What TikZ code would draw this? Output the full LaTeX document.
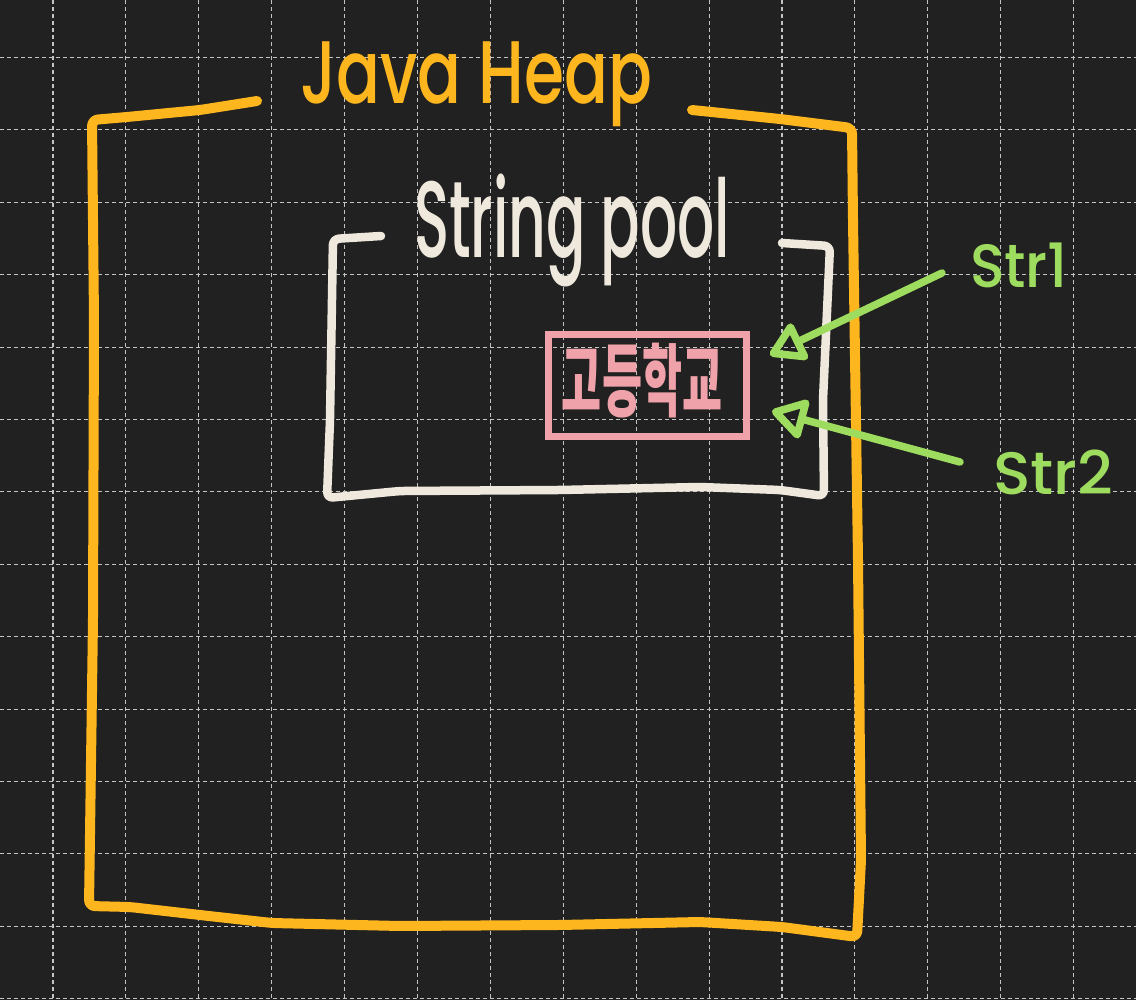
\documentclass[tikz,border=0pt]{standalone}
\usepackage{graphicx}
\usepackage{fontspec}
\setmainfont{Poppins}[UprightFont=* Medium]
\newfontfamily\krfont{Noto Sans CJK KR}
\usetikzlibrary{arrows.meta}
\definecolor{bg}{HTML}{212121}
\definecolor{heap}{HTML}{FDB61D}
\definecolor{pool}{HTML}{EFE9DD}
\definecolor{pinkc}{HTML}{F0A2AA}
\definecolor{greenc}{HTML}{9DDC5E}
\definecolor{gridc}{HTML}{C4C4C4}
\begin{document}
\begin{tikzpicture}[x=1pt,y=-1pt,
  gridline/.style={gridc, line width=1.1pt, dash pattern=on 4pt off 3pt},
  hand/.style={line width=#1, line cap=round, line join=round, rounded corners=6pt},
  lbl/.style={inner sep=0pt, outer sep=0pt},
  ptr/.style={greenc, line width=7.5pt, line cap=round,
    -{Triangle[open, length=38pt, width=44pt, line join=round]}}]
\fill[bg] (0,0) rectangle (1136,1000);
\useasboundingbox (0,0) rectangle (1136,1000);
% grid
\foreach \i in {0,...,14} {\draw[gridline] ({53+72.9*\i},0) -- ({53+72.9*\i},1000);}
\foreach \j in {0,...,13} {\draw[gridline] (0,{57.5+72.4*\j}) -- (1136,{57.5+72.4*\j});}
% Java heap frame
\draw[heap, hand=10pt] (257,101) -- (200,110) -- (127,117) -- (92,120) -- (94,320) -- (93,620)
  -- (89,906) -- (130,907) -- (200,915) -- (272,923) -- (400,926) -- (560,925) -- (700,922)
  -- (782,927) -- (857,937) -- (861,860) -- (858,560) -- (853,220) -- (852,128) -- (780,119) -- (692,110);
\node[lbl, anchor=north west, text=heap] (jh) at (300,42) {\resizebox*{352pt}{85pt}{Java Heap}};
% String pool frame
\draw[pool, hand=8.5pt] (381,236) -- (333,239) -- (330,420) -- (327,498) -- (400,491) -- (560,490)
  -- (700,487) -- (780,490) -- (824,496) -- (823,400) -- (830,246) -- (782,243);
\node[lbl, anchor=north west, text=pool] (sp) at (414,174) {\resizebox*{316pt}{113pt}{String pool}};
% object box
\node[draw=pinkc, line width=7pt, minimum width=198pt, minimum height=102pt, inner sep=0pt] (kbox) at (647,385.5) {};
\node[lbl, text=pinkc] (ktext) at (642,381) {\resizebox*{160pt}{75pt}{\krfont\bfseries 고등학교}};
% references
\node[lbl, anchor=north west, text=greenc] (s1) at (970,243) {\resizebox*{98pt}{45pt}{Str1}};
\node[lbl, anchor=north west, text=greenc] (s2) at (993,450) {\resizebox*{120pt}{45pt}{Str2}};
\coordinate (t1) at (942,273);
\coordinate (t2) at (960,462);
\coordinate (tip1) at (770,355);
\coordinate (tip2) at (772,411);
\draw[ptr] (t1) -- (tip1);
\draw[ptr] (t2) -- (tip2);
\end{tikzpicture}
\end{document}
